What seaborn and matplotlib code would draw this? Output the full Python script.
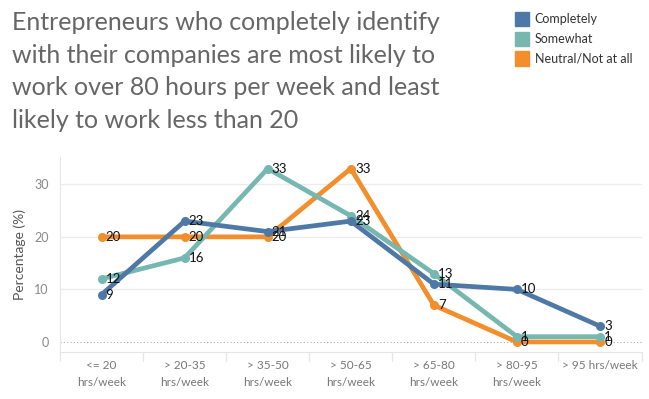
import pandas as pd
import numpy as np
import matplotlib
matplotlib.use('Agg')
import matplotlib.pyplot as plt
from matplotlib.patches import Rectangle
import seaborn as sns

hours = ['<= 20\nhrs/week', '> 20-35\nhrs/week', '> 35-50\nhrs/week', '> 50-65\nhrs/week',
         '> 65-80\nhrs/week', '> 80-95\nhrs/week', '> 95 hrs/week']
completely = [9, 23, 21, 23, 11, 10, 3]
somewhat = [12, 16, 33, 24, 13, 1, 1]
neutral = [20, 20, 20, 33, 7, 0, 0]
groups = ['Completely', 'Somewhat', 'Neutral/Not at all']
colors = ['#4e79a7', '#76b7b2', '#f28e2b']

df = pd.DataFrame({
    'hours': hours * 3,
    'x': list(range(len(hours))) * 3,
    'pct': completely + somewhat + neutral,
    'group': [g for g in groups for _ in hours],
})

sns.set_style('white')
plt.rcParams['font.family'] = ['Lato', 'DejaVu Sans']

fig = plt.figure(figsize=(6.49, 3.99), dpi=100)
ax = fig.add_axes([0.0925, 0.118, 0.896, 0.4885])

# orange first, blue last so blue sits on top
for g, c in reversed(list(zip(groups, colors))):
    sub = df[df['group'] == g]
    sns.lineplot(data=sub, x='x', y='pct', color=c, linewidth=3.4, marker='o',
                 markersize=6.5, markeredgewidth=0, ax=ax, legend=False, zorder=3)
    for xi, v in zip(sub['x'], sub['pct']):
        ax.text(xi + 0.05, v, str(v), ha='left', va='center', fontsize=9.5,
                color='#111111', zorder=5)

ax.set_xlim(-0.5, len(hours) - 0.5)
ax.set_ylim(-1.9, 35.2)
ax.set_yticks([0, 10, 20, 30])
ax.set_xticks(range(len(hours)))
ax.set_xticklabels(hours, fontsize=8.5, color='#777777', linespacing=1.6)
ax.tick_params(axis='y', labelsize=9, labelcolor='#888888', length=0, pad=8)
ax.tick_params(axis='x', length=0, pad=6)
for v in [10, 20, 30]:
    ax.axhline(v, color='#ececec', linewidth=0.9, zorder=1)
ax.axhline(0, color='#aaaaaa', linewidth=0.8, linestyle=(0, (1, 2)), zorder=1)
for s in ['top', 'right']:
    ax.spines[s].set_visible(False)
ax.spines['left'].set_color('#e6e6e6')
ax.spines['bottom'].set_color('#e6e6e6')
# category separator ticks below the axis
for b in np.arange(-0.5, len(hours), 1.0):
    ax.plot([b, b], [-1.9, -3.6], color='#e6e6e6', linewidth=0.9, clip_on=False)
ax.set_xlabel('')
ax.set_ylabel('Percentage (%)', fontsize=10, color='#555555', labelpad=6)

fig.text(0.018, 0.972, 'Entrepreneurs who completely identify\nwith their companies are most likely to\n'
         'work over 80 hours per week and least\nlikely to work less than 20',
         fontsize=18, color='#666666', ha='left', va='top', linespacing=1.5)

for i, (g, c) in enumerate(zip(groups, colors)):
    y = 0.953 - i * 0.05
    fig.patches.append(Rectangle((0.794, y - 0.018), 0.0216, 0.036, transform=fig.transFigure,
                                 color=c, figure=fig))
    fig.text(0.824, y, g, fontsize=9, color='#333333', ha='left', va='center')

fig.savefig('out.png', dpi=100)
